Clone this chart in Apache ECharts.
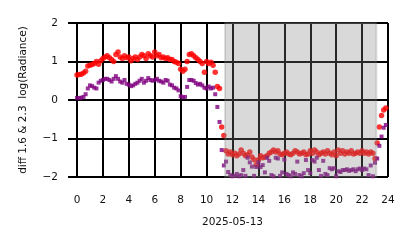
<!DOCTYPE html>
<html>
<head>
<meta charset="utf-8">
<script src="https://cdn.jsdelivr.net/npm/echarts@6/dist/echarts.min.js"></script>
<style>
  html, body { margin: 0; padding: 0; background: #fff; }
  #chart { width: 414px; height: 248px; }
</style>
</head>
<body>
<div id="chart"></div>
<script>
// 10-minute samples, hours since midnight
const stepMinutes = 10
const sampleCount = 144

// diff 1.6 (red dots)
const diff16 = [
  0.65, 0.66, 0.67, 0.70, 0.75, 0.88,
  0.90, 0.92, 0.95, 1.00, 0.93, 1.02,
  1.08, 1.12, 1.15, 1.10, 1.05, 1.00,
  1.18, 1.25, 1.12, 1.08, 1.15, 1.10,
  1.12, 1.02, 1.08, 1.12, 1.05, 1.12,
  1.18, 1.15, 1.08, 1.20, 1.15, 1.12,
  1.25, 1.15, 1.18, 1.10, 1.12, 1.08,
  1.10, 1.05, 1.05, 1.00, 0.98, 0.95,
  0.80, 0.75, 0.80, 1.00, 1.18, 1.20,
  1.15, 1.10, 1.05, 1.00, 0.95, 0.72,
  1.00, 0.95, 0.98, 0.90, 0.72, 0.35,
  0.30, -0.70, -0.92, -1.32, -1.40, -1.35,
  -1.42, -1.38, -1.45, -1.40, -1.30, -1.38,
  -1.45, -1.42, -1.35, -1.48, -1.55, -1.68,
  -1.55, -1.45, -1.50, -1.48, -1.45, -1.38,
  -1.35, -1.30, -1.35, -1.32, -1.40, -1.42,
  -1.38, -1.35, -1.40, -1.42, -1.38, -1.32,
  -1.35, -1.40, -1.38, -1.35, -1.42, -1.40,
  -1.32, -1.38, -1.30, -1.35, -1.42, -1.38,
  -1.35, -1.40, -1.32, -1.38, -1.42, -1.35,
  -1.45, -1.30, -1.38, -1.32, -1.40, -1.35,
  -1.38, -1.32, -1.40, -1.38, -1.35, -1.38,
  -1.32, -1.38, -1.35, -1.40, -1.35, -1.38,
  -1.52, -1.12, -0.70, -0.40, -0.26, -0.21
]

// diff 2.3 (purple squares)
const diff23 = [
  0.05, 0.05, 0.06, 0.08, 0.15, 0.30,
  0.38, 0.36, 0.32, 0.30, 0.45, 0.50,
  0.52, 0.55, 0.55, 0.52, 0.48, 0.55,
  0.62, 0.55, 0.48, 0.45, 0.52, 0.42,
  0.40, 0.36, 0.38, 0.42, 0.45, 0.50,
  0.55, 0.45, 0.50, 0.57, 0.52, 0.50,
  0.52, 0.55, 0.50, 0.48, 0.45, 0.52,
  0.50, 0.40, 0.38, 0.32, 0.30, 0.25,
  0.10, 0.07, 0.08, 0.34, 0.52, 0.52,
  0.50, 0.44, 0.40, 0.42, 0.38, 0.32,
  0.30, 0.35, 0.30, 0.32, 0.15, -0.18,
  -0.57, -1.30, -1.70, -1.60, -1.87, -1.95,
  -1.98, -1.97, -1.92, -1.98, -1.95, -1.82,
  -1.97, -1.50, -1.62, -1.73, -1.97, -1.74,
  -1.62, -1.74, -1.69, -1.88, -1.50, -1.58,
  -1.95, -1.98, -1.50, -1.52, -1.97, -1.88,
  -1.55, -1.92, -1.95, -1.98, -1.88, -1.92,
  -1.60, -1.95, -1.98, -1.90, -1.56, -1.82,
  -1.90, -1.56, -1.60, -1.50, -1.82, -1.97,
  -1.58, -1.92, -1.95, -1.77, -1.80, -1.77,
  -1.98, -1.85, -1.87, -1.82, -1.82, -1.80,
  -1.84, -1.82, -1.80, -1.85, -1.80, -1.78,
  -1.82, -1.78, -1.80, -1.95, -1.70, -1.98,
  -1.63, -1.52, -1.19, -0.95, -0.72, -0.65
]

// shaded (night) span, hours
const shadeSpan = [11.42, 23.1]

const hours = []
for (let i = 0; i < sampleCount; i++) hours.push((i * stepMinutes) / 60)

const pairs = (vals) => vals.map((v, i) => [hours[i], v])

const font = 'DejaVu Sans'
const black = '#000'
const textSize = 10.5

const chart = echarts.init(document.getElementById('chart'), null, { renderer: 'canvas' })
chart.setOption({
  animation: false,
  grid: { left: 77, right: 26, top: 23, bottom: 71 },
  xAxis: {
    type: 'value',
    min: 0,
    max: 24,
    interval: 2,
    name: '2025-05-13',
    nameLocation: 'middle',
    nameGap: 40,
    nameTextStyle: { fontFamily: font, fontSize: textSize, color: '#111' },
    axisLine: { lineStyle: { color: black, width: 2 } },
    axisTick: { show: true, length: 9, lineStyle: { color: black, width: 2 } },
    axisLabel: { fontFamily: font, fontSize: textSize, color: '#111', margin: 18 },
    splitLine: { show: true, lineStyle: { color: black, width: 2 } }
  },
  yAxis: {
    type: 'value',
    min: -2,
    max: 2,
    interval: 1,
    name: 'diff 1.6 & 2.3  log(Radiance)',
    nameLocation: 'middle',
    nameGap: 48,
    nameTextStyle: { fontFamily: font, fontSize: textSize, color: '#111' },
    axisLine: { show: true, lineStyle: { color: black, width: 2 } },
    axisTick: { show: true, length: 9, lineStyle: { color: black, width: 2 } },
    axisLabel: {
      fontFamily: font,
      fontSize: textSize,
      color: '#111',
      margin: 19,
      formatter: (v) => String(v).replace('-', '\u2212')
    },
    splitLine: { show: true, lineStyle: { color: black, width: 2 } }
  },
  series: [
    {
      name: 'diff 1.6',
      type: 'scatter',
      data: pairs(diff16),
      symbol: 'circle',
      symbolSize: 5.5,
      itemStyle: { color: '#ff0000' },
      clip: true,
      z: 2
    },
    {
      name: 'diff 2.3',
      type: 'scatter',
      data: pairs(diff23),
      symbol: 'rect',
      symbolSize: 4,
      itemStyle: { color: '#800080' },
      clip: true,
      z: 3
    },
    {
      // grey span laid over the night points
      name: 'night',
      type: 'scatter',
      data: [],
      z: 10,
      markArea: {
        z: 10,
        silent: true,
        itemStyle: {
          color: 'rgba(128,128,128,0.3)',
          borderColor: 'rgba(128,128,128,0.25)',
          borderWidth: 2
        },
        data: [[{ xAxis: shadeSpan[0] }, { xAxis: shadeSpan[1] }]]
      }
    }
  ]
})
</script>
</body>
</html>
